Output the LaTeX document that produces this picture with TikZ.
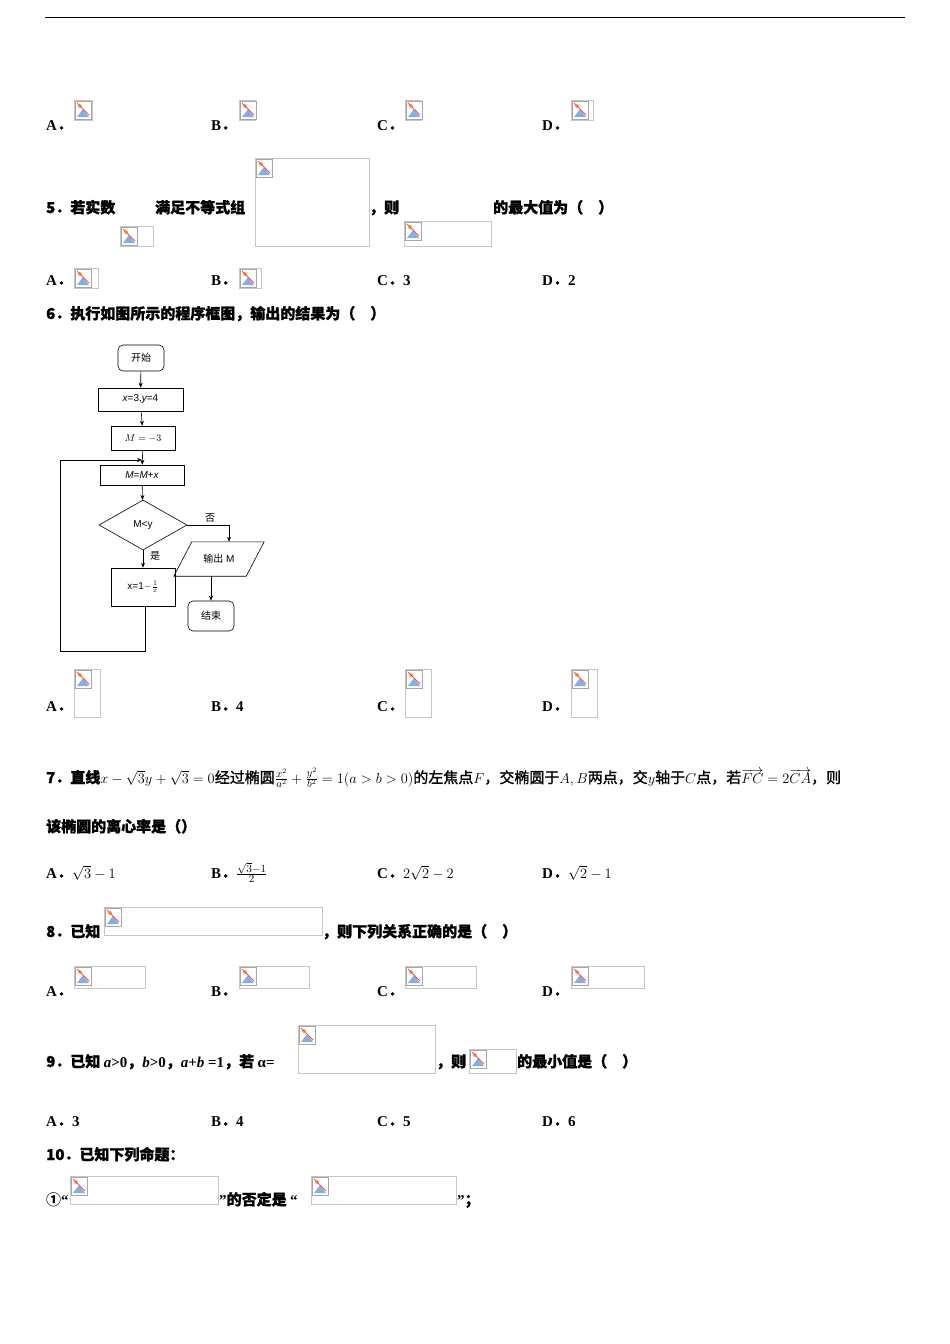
\documentclass[tikz,border=0pt]{standalone}
\usepackage{fontspec}
\setmainfont{Liberation Serif}
\newfontfamily\cj{Noto Sans CJK SC}[FakeBold=1.2]
\newfontfamily\cjl{Noto Sans CJK SC}
\newfontfamily\ls{Liberation Sans}
\usetikzlibrary{shapes.geometric,arrows.meta}
\newcommand\bimg[4]{%
  \draw[gray!45,line width=0.6pt] (#1,#2) rectangle ++(#3,#4);
  \draw[gray!70,line width=0.5pt,fill=white] (#1+1,#2+1) rectangle ++(16,18);
  \fill[cyan!60!blue!50] (#1+3,#2+17) -- (#1+9,#2+9) -- (#1+15,#2+17) -- cycle;
  \fill[orange!70] (#1+6,#2+6) circle (2);
  \draw[red!70,line width=0.8pt] (#1+3,#2+3) -- (#1+15,#2+15);}
\newcommand\dt{{\cj ．}}
\tikzset{tx/.style={anchor=base west,inner sep=0pt,font=\fontsize{15}{18}\selectfont\bfseries},
 fb/.style={draw,line width=0.6pt,minimum height=#1,inner sep=1pt},
 ar/.style={-{Stealth[length=5pt,width=4pt]},line width=0.6pt}}
\begin{document}
\begin{tikzpicture}[x=1pt,y=-1pt]
\useasboundingbox[fill=white] (0,0) rectangle (950,1344);
\draw[line width=0.8pt] (45,17) -- (905,17);
% row 1
\node[tx] (a1) at (46,130) {A\dt};\bimg{74}{100}{18}{20}
\node[tx] (b1) at (211,130) {B\dt};\bimg{239}{100}{16}{20}
\node[tx] (c1) at (377,130) {C\dt};\bimg{405}{100}{16}{20}
\node[tx] (d1) at (542,130) {D\dt};\bimg{571}{100}{22}{20}
% Q5
\node[tx] (q5a) at (46,213) {\cj 5．若实数};
\node[tx] (q5b) at (155,213) {\cj 满足不等式组};
\bimg{255}{158}{114}{88}
\node[tx] (q5c) at (369,213) {\cj ，则};
\bimg{404}{221}{87}{25}
\node[tx] (q5d) at (493,213) {\cj 的最大值为（　）};
\bimg{120}{226}{33}{20}
\node[tx] (a2) at (46,285) {A\dt};\bimg{74}{268}{24}{20}
\node[tx] (b2) at (211,285) {B\dt};\bimg{239}{268}{22}{20}
\node[tx] (c2) at (377,285) {C\dt 3};
\node[tx] (d2) at (542,285) {D\dt 2};
% Q6
\node[tx] (q6) at (46,319) {\cj 6．执行如图所示的程序框图，输出的结果为（　）};
\begin{scope}[font=\fontsize{10}{12}\selectfont]
\node[fb=26pt,rounded corners=5pt,minimum width=46pt] (st) at (141,358) {\cjl 开始};
\node[fb=23pt,minimum width=85pt] (n1) at (140.5,399.5) {\ls\itshape x\upshape=3,\itshape y\upshape=4};
\node[fb=24pt,minimum width=64pt] (n2) at (143,438) {$M=-3$};
\node[fb=20pt,minimum width=84pt] (n3) at (142,475) {\ls\itshape M\upshape=\itshape M\upshape+\itshape x};
\node[draw,diamond,aspect=1.76,minimum width=88pt,minimum height=50pt,inner sep=0pt,line width=0.6pt] (dm) at (143,525) {\ls M<y};
\node[fb=38pt,minimum width=64pt] (n4) at (143,587) {\ls x=1$-\frac{1}{x}$};
\node[minimum width=54pt,minimum height=34pt,inner sep=1pt] (out) at (219,559) {\cjl 输出\ls\ M};
\draw[line width=0.6pt] (out.north west)++(0,0) -- ([xshift=18pt]out.north east) -- (out.south east) -- ([xshift=-18pt]out.south west) -- cycle;
\node[fb=30pt,rounded corners=5pt,minimum width=46pt] (en) at (211,616) {\cjl 结束};
\node[anchor=center] (no) at (210,518) {\cjl 否};
\node[anchor=center] (yes) at (155,556) {\cjl 是};
\end{scope}
\coordinate (lp1) at (145,651);\coordinate (lp2) at (60,651);\coordinate (lp3) at (60,460);\coordinate (lp4) at (142,460);
\coordinate (rt) at (229,525);
\draw[ar] (st) -- (n1);
\draw[ar] (n1) -- (n2);
\draw[ar] (n2) -- (n3);
\draw[ar] (n3) -- (dm);
\draw[ar] (dm) -- (n4);
\draw[ar] (dm.east) -- (rt) -- (rt|-out.north);
\draw[ar] (out.south-|en) -- (en);
\draw[ar] (n4.south-|lp1) -- (lp1) -- (lp2) -- (lp3) -- (lp4);
\node[tx] (a3) at (46,711) {A\dt};\bimg{74}{669}{26}{48}
\node[tx] (b3) at (211,711) {B\dt 4};
\node[tx] (c3) at (377,711) {C\dt};\bimg{405}{669}{26}{48}
\node[tx] (d3) at (542,711) {D\dt};\bimg{571}{669}{26}{48}
% Q7
\node[tx] (q7) at (46,783) {\cj 7．直线\mdseries$x-\sqrt{3}y+\sqrt{3}=0$\cj 经过椭圆\mdseries$\frac{x^2}{a^2}+\frac{y^2}{b^2}=1(a>b>0)$\cj 的左焦点\mdseries$F$\cj ，交椭圆于\mdseries$A,B$\cj 两点，交\mdseries$y$\cj 轴于\mdseries$C$\cj 点，若\mdseries$\overrightarrow{FC}=2\overrightarrow{CA}$\cj ，则};
\node[tx] (q7b) at (46,832) {\cj 该椭圆的离心率是（）};
\node[tx] (a4) at (46,878) {A\dt\mdseries$\sqrt{3}-1$};
\node[tx] (b4) at (211,878) {B\dt\mdseries$\frac{\sqrt{3}-1}{2}$};
\node[tx] (c4) at (377,878) {C\dt\mdseries$2\sqrt{2}-2$};
\node[tx] (d4) at (542,878) {D\dt\mdseries$\sqrt{2}-1$};
% Q8
\node[tx] (q8) at (46,937) {\cj 8．已知};\bimg{104}{907}{218}{28}
\node[tx] (q8b) at (322,937) {\cj ，则下列关系正确的是（　）};
\node[tx] (a5) at (46,996) {A\dt};\bimg{74}{966}{71}{22}
\node[tx] (b5) at (211,996) {B\dt};\bimg{239}{966}{70}{22}
\node[tx] (c5) at (377,996) {C\dt};\bimg{405}{966}{71}{22}
\node[tx] (d5) at (542,996) {D\dt};\bimg{571}{966}{73}{22}
% Q9
\node[tx] (q9) at (46,1067) {\cj 9．已知\ \rmfamily\itshape a\upshape>0\cj ，\rmfamily\itshape b\upshape>0\cj ，\rmfamily\itshape a\upshape+\itshape b\upshape\ =1\cj ，若 \rmfamily α=};
\bimg{298}{1025}{137}{48}
\node[tx] (q9b) at (436,1067) {\cj ，则};
\bimg{469}{1049}{47}{24}
\node[tx] (q9c) at (517,1067) {\cj 的最小值是（　）};
\node[tx] (a6) at (46,1126) {A\dt 3};
\node[tx] (b6) at (211,1126) {B\dt 4};
\node[tx] (c6) at (377,1126) {C\dt 5};
\node[tx] (d6) at (542,1126) {D\dt 6};
\node[tx] (q10) at (46,1160) {\cj 10．已知下列命题：};
\node[tx] (q10a) at (46,1205) {{\cjl ①}“};\bimg{70}{1176}{148}{28}
\node[tx] (q10b) at (219,1205) {”\cj 的否定是 \rmfamily “};\bimg{311}{1176}{145}{28}
\node[tx] (q10c) at (457,1205) {”\cj ；};
\end{tikzpicture}
\end{document}
